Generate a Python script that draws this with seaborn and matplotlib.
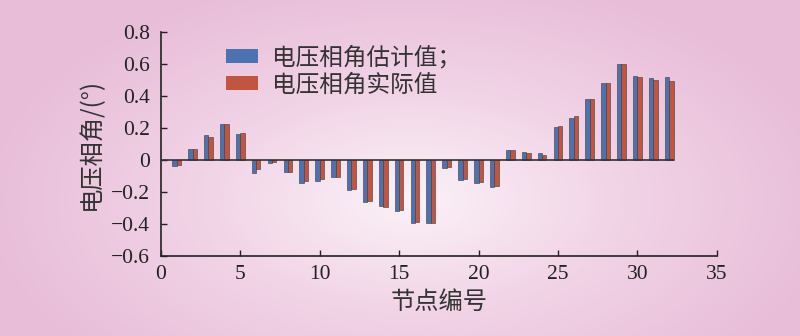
import numpy as np
import pandas as pd
import matplotlib
matplotlib.use("Agg")
import matplotlib.pyplot as plt
import seaborn as sns
from matplotlib.colors import LinearSegmentedColormap

nodes = list(range(1, 33))
estimated = [-0.035, 0.069, 0.155, 0.226, 0.161, -0.084, -0.021, -0.077, -0.146, -0.132,
             -0.107, -0.188, -0.261, -0.288, -0.318, -0.397, -0.397, -0.048, -0.125, -0.146,
             -0.167, 0.063, 0.052, 0.042, 0.205, 0.265, 0.382, 0.483, 0.602, 0.527,
             0.512, 0.520]
actual = [-0.030, 0.069, 0.146, 0.226, 0.169, -0.058, -0.013, -0.077, -0.132, -0.121,
          -0.104, -0.184, -0.257, -0.295, -0.316, -0.387, -0.397, -0.042, -0.117, -0.136,
          -0.161, 0.063, 0.044, 0.031, 0.213, 0.274, 0.382, 0.483, 0.602, 0.520,
          0.501, 0.493]
series_names = ["电压相角估计值；", "电压相角实际值"]
yticks = [-0.6, -0.4, -0.2, 0, 0.2, 0.4, 0.6, 0.8]
ytick_labels = ["\u22120.6", "\u22120.4", "\u22120.2", "0", "0.2", "0.4", "0.6", "0.8"]
xticks = [0, 5, 10, 15, 20, 25, 30, 35]
xlabel = "节点编号"
ylabel = "电压相角/(°)"

df = pd.DataFrame({
    "node": nodes * 2,
    "value": estimated + actual,
    "series": [series_names[0]] * len(nodes) + [series_names[1]] * len(nodes),
})

sns.set_theme(style="white")
plt.rcParams["font.family"] = ["Liberation Serif", "Noto Sans CJK SC", "DejaVu Sans"]
plt.rcParams["axes.unicode_minus"] = True

fig = plt.figure(figsize=(8, 3.36), dpi=100)

# background radial gradient
bg = fig.add_axes([0, 0, 1, 1], zorder=-10)
W, H = 800, 336
yy, xx = np.mgrid[0:H, 0:W]
r = np.sqrt(((xx - 410) / 430.0) ** 2 + ((yy - 200) / 230.0) ** 2)
r = np.clip(r, 0, 1)
cmap = LinearSegmentedColormap.from_list("bgpink", ["#fbf1f7", "#f1d3e6", "#e8bdd8"])
bg.imshow(r, cmap=cmap, aspect="auto", extent=[0, 1, 0, 1], origin="upper", vmin=0, vmax=1)
bg.axis("off")

ax = fig.add_axes([0.201, 0.239, 0.695, 0.665])
ax.set_facecolor("none")

sns.barplot(data=df, x="node", y="value", hue="series", native_scale=True,
            palette=["#3a6fc2", "#d8462a"], width=0.55, errorbar=None,
            edgecolor="#3a3a3a", linewidth=0.4, ax=ax, zorder=2)

ax.hlines(0, 0, nodes[-1] + 0.3, color="#333333", linewidth=1.2, zorder=3)

ax.set_xlim(0, 35)
ax.set_ylim(-0.6, 0.8)
ax.set_xticks(xticks)
ax.set_xticklabels([str(t) for t in xticks])
ax.set_yticks(yticks)
ax.set_yticklabels(ytick_labels)
ax.tick_params(axis="both", direction="in", length=4, width=1.0, color="#222222",
               labelsize=15.5, labelcolor="#222222", left=True, bottom=True)
ax.tick_params(axis="y", pad=8)
ax.tick_params(axis="x", pad=7)
for s in ["top", "right"]:
    ax.spines[s].set_visible(False)
for s in ["left", "bottom"]:
    ax.spines[s].set_color("#222222")
    ax.spines[s].set_linewidth(1.2)

ax.set_xlabel(xlabel, fontsize=17.5, color="#333333", family=["Noto Sans CJK SC"], labelpad=3)
ax.set_ylabel(ylabel, fontsize=17.5, color="#333333", family=["Noto Sans CJK SC", "DejaVu Sans"], labelpad=5)

leg = ax.legend(loc="upper left", bbox_to_anchor=(0.117, 0.94), frameon=False,
                prop={"family": "Noto Sans CJK SC", "size": 17},
                handlelength=1.35, handleheight=0.55, handletextpad=0.6, labelspacing=0.18,
                borderpad=0, borderaxespad=0)
for t in leg.get_texts():
    t.set_color("#333333")
for h in leg.legend_handles:
    h.set_edgecolor("none")

fig.savefig("out.png", dpi=100)
